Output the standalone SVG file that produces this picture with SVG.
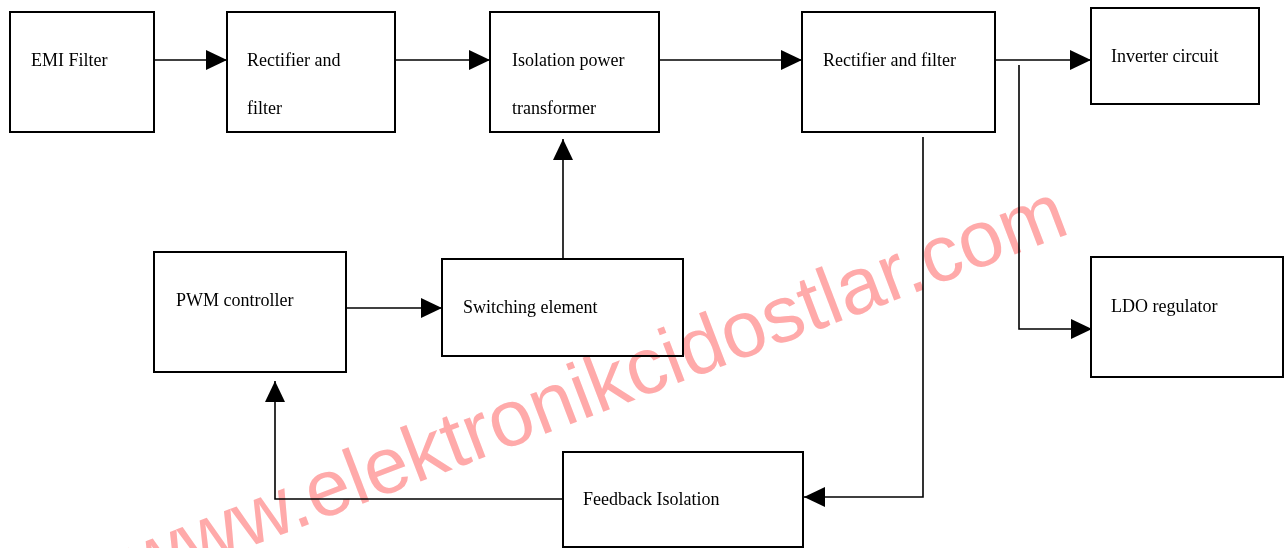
<svg xmlns="http://www.w3.org/2000/svg" width="1288" height="548" viewBox="0 0 1288 548">
<style>
.box{fill:#fff;stroke:#000;stroke-width:2}
.lbl{font-family:"Liberation Serif","Times New Roman",serif;font-size:18px;fill:#000}
.ln{fill:none;stroke:#000;stroke-width:1.6}
.arr{marker-end:url(#ah)}
.wm{font-family:"Liberation Sans",Arial,sans-serif;font-size:80px;fill:#ffaaaa;mix-blend-mode:multiply}
</style>
<defs>
<marker id="ah" viewBox="0 0 21 20" refX="21" refY="10" markerWidth="21" markerHeight="20" markerUnits="userSpaceOnUse" orient="auto">
<path d="M0,0 L21,10 L0,20 Z" fill="#000"/>
</marker>
</defs>
<rect width="1288" height="548" fill="#fff"/>
<g id="connectors">
<path class="ln arr" d="M154,60 H227"/>
<path class="ln arr" d="M395,60 H490"/>
<path class="ln arr" d="M659,60 H802"/>
<path class="ln arr" d="M995,60 H1091"/>
<path class="ln arr" d="M1019,65 V329 H1092"/>
<path class="ln arr" d="M923,137 V497 H804"/>
<path class="ln arr" d="M563,259 V139"/>
<path class="ln arr" d="M346,308 H442"/>
<path class="ln arr" d="M563,499 H275 V381"/>
</g>
<g id="emi-filter">
<rect class="box" x="10" y="12" width="144" height="120"/>
<text class="lbl" x="31" y="66">EMI Filter</text>
</g>
<g id="rectifier-filter-1">
<rect class="box" x="227" y="12" width="168" height="120"/>
<text class="lbl" x="247" y="66">Rectifier and</text>
<text class="lbl" x="247" y="114">filter</text>
</g>
<g id="isolation-transformer">
<rect class="box" x="490" y="12" width="169" height="120"/>
<text class="lbl" x="512" y="66">Isolation power</text>
<text class="lbl" x="512" y="114">transformer</text>
</g>
<g id="rectifier-filter-2">
<rect class="box" x="802" y="12" width="193" height="120"/>
<text class="lbl" x="823" y="66">Rectifier and filter</text>
</g>
<g id="inverter-circuit">
<rect class="box" x="1091" y="8" width="168" height="96"/>
<text class="lbl" x="1111" y="62">Inverter circuit</text>
</g>
<g id="ldo-regulator">
<rect class="box" x="1091" y="257" width="192" height="120"/>
<text class="lbl" x="1111" y="312">LDO regulator</text>
</g>
<g id="pwm-controller">
<rect class="box" x="154" y="252" width="192" height="120"/>
<text class="lbl" x="176" y="306">PWM controller</text>
</g>
<g id="switching-element">
<rect class="box" x="442" y="259" width="241" height="97"/>
<text class="lbl" x="463" y="313">Switching element</text>
</g>
<g id="feedback-isolation">
<rect class="box" x="563" y="452" width="240" height="95"/>
<text class="lbl" x="583" y="505">Feedback Isolation</text>
</g>
<text class="wm" x="137.3" y="589.7" transform="rotate(-20.9 137.3 589.7)">www.elektronikcidostlar.com</text>
</svg>
